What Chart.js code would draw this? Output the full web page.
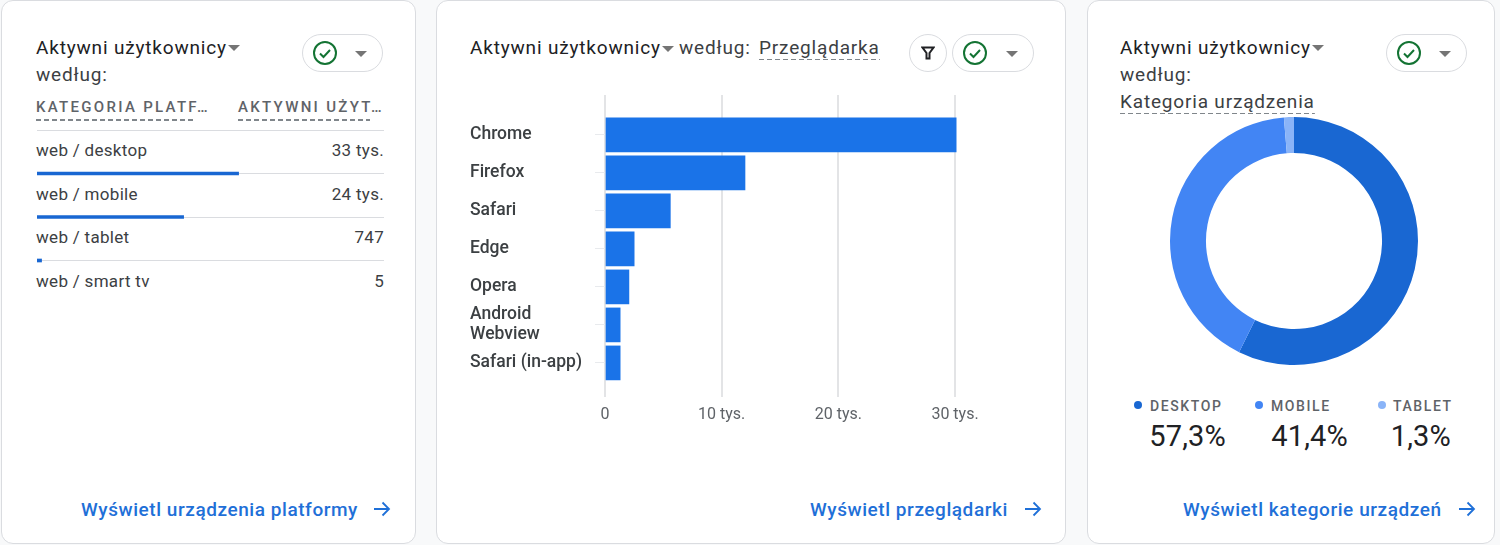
<!DOCTYPE html>
<html lang="pl">
<head>
<meta charset="utf-8">
<title>Aktywni użytkownicy</title>
<script src="https://cdn.jsdelivr.net/npm/chart.js@4"></script>
<style>
  html, body { margin: 0; padding: 0; width: 1500px; height: 545px; overflow: hidden; background: #f8f9fa; font-family: Roboto, sans-serif; color: #3c4043; }
  .card { position: absolute; top: 0; height: 544px; box-sizing: border-box; background: #fff; border: 1px solid #dadce0; border-radius: 12px; }
  .abs { position: absolute; white-space: nowrap; }
  .title { font-size: 19px; letter-spacing: .82px; color: #202124; }
  .sub { color: #3c4043; }
  .dash { padding-bottom: 1px; background: repeating-linear-gradient(90deg, #80868b 0 5px, transparent 5px 8px) bottom / 100% 1.5px no-repeat; }
  .caret { position: absolute; width: 0; height: 0; border-left: 6px solid transparent; border-right: 6px solid transparent; border-top: 6px solid #757575; }
  .pill { position: absolute; box-sizing: border-box; height: 38px; background: #fff; border: 1px solid #dadce0; border-radius: 19px; }
  .link { position: absolute; font-size: 19px; font-weight: 500; letter-spacing: .56px; color: #1f70d8; white-space: nowrap; }
  .head { font-size: 15px; font-weight: 500; letter-spacing: 2.3px; color: #5f6368; }
  .line { position: absolute; height: 1.5px; background: repeating-linear-gradient(90deg, #80868b 0 5px, transparent 5px 8px); }
  .row { font-size: 17px; letter-spacing: .3px; color: #3c4043; }
  .leg { font-size: 14px; font-weight: 500; letter-spacing: 1.6px; color: #5f6368; }
  .pct { font-size: 29px; letter-spacing: .2px; color: #202124; }
  .dot { position: absolute; width: 8px; height: 8px; border-radius: 50%; }
  canvas { position: absolute; }
</style>
</head>
<body>
<div class="card" style="left:1px;width:415px"></div>
<div class="card" style="left:436px;width:630px"></div>
<div class="card" style="left:1087px;width:408px"></div>

<!-- left card -->
<div class="abs title" style="left:36px;top:36px">Aktywni użytkownicy</div>
<div class="caret" style="left:228px;top:45px"></div>
<div class="abs title sub" style="left:36px;top:63px">według:</div>
<div class="abs title sub" style="left:36px;top:90px;height:4px;overflow:hidden">Kategoria platformy</div>
<div class="abs head" style="left:36px;top:98px">KATEGORIA PLATF…</div>
<div class="abs head" style="left:238px;top:98px">AKTYWNI UŻYT…</div>
<div class="line" style="left:36px;top:119px;width:159px"></div>
<div class="line" style="left:238px;top:119px;width:132px"></div>
<div id="platformRows"></div>
<canvas id="platformChart" style="left:37px;top:129px"></canvas>

<!-- middle card -->
<div class="abs title" style="left:470px;top:36px">Aktywni użytkownicy</div>
<div class="caret" style="left:662px;top:46px"></div>
<div class="abs title sub" style="left:679px;top:36px">według:</div>
<div class="abs title sub dash" style="left:759px;top:36px">Przeglądarka</div>
<canvas id="browserChart" style="left:470px;top:95px"></canvas>

<!-- right card -->
<div class="abs title" style="left:1120px;top:36px">Aktywni użytkownicy</div>
<div class="caret" style="left:1312px;top:45px"></div>
<div class="abs title sub" style="left:1120px;top:63px">według:</div>
<div class="abs title sub dash" style="left:1120px;top:90px">Kategoria urządzenia</div>
<canvas id="deviceChart" style="left:1160px;top:107px"></canvas>
<div id="deviceLegend"></div>

<div id="pills"></div>

<div class="link" style="left:81px;top:498px">Wyświetl urządzenia platformy</div>
<div class="link" style="left:810px;top:498px">Wyświetl przeglądarki</div>
<div class="link" style="left:1183px;top:498px">Wyświetl kategorie urządzeń</div>
<div id="arrows"></div>

<script>
// platform table
const platformLabels = ['web / desktop', 'web / mobile', 'web / tablet', 'web / smart tv'];
const platformValues = [33000, 24000, 747, 5];
const platformText = ['33 tys.', '24 tys.', '747', '5'];

// browsers
const browserLabels = ['Chrome', 'Firefox', 'Safari', 'Edge', 'Opera', ['Android', 'Webview'], 'Safari (in-app)'];
const browserValues = [30100, 12000, 5600, 2500, 2050, 1300, 1300];
const browserTicks = [0, 10000, 20000, 30000];

// devices
const deviceLabels = ['DESKTOP', 'MOBILE', 'TABLET'];
const deviceValues = [57.3, 41.4, 1.3];
const deviceText = ['57,3%', '41,4%', '1,3%'];
const deviceColors = ['#1967d2', '#4285f4', '#8ab4f8'];

function addHtml(id, html) {
    document.getElementById(id).insertAdjacentHTML('beforeend', html);
}

// rows of the left table
platformLabels.forEach(function(label, i) {
    const top = 140 + i * 43.5;
    addHtml('platformRows', '<div class="abs row" style="left:36px;top:' + top + 'px">' + label + '</div>');
    addHtml('platformRows', '<div class="abs row" style="right:' + (1500 - 384) + 'px;top:' + top + 'px">' + platformText[i] + '</div>');
});

// legend of the donut
const legendDotX = [1134, 1255, 1378];
const legendTextX = [1150, 1271, 1393];
const pctRight = [1226, 1348, 1451];
deviceLabels.forEach(function(label, i) {
    addHtml('deviceLegend', '<div class="dot" style="left:' + legendDotX[i] + 'px;top:401px;background:' + deviceColors[i] + '"></div>');
    addHtml('deviceLegend', '<div class="abs leg" style="left:' + legendTextX[i] + 'px;top:398px">' + label + '</div>');
    addHtml('deviceLegend', '<div class="abs pct" style="right:' + (1500 - pctRight[i]) + 'px;top:419px">' + deviceText[i] + '</div>');
});

// check pills and the filter button
const checkIcon = '<svg width="26" height="26" viewBox="0 0 26 26" style="position:absolute;left:9px;top:5px"><circle cx="13" cy="13" r="11" fill="none" stroke="#137333" stroke-width="2"/><path d="M8 13.500l3.500 3.500 6.500-7" fill="none" stroke="#137333" stroke-width="2"/></svg>';
[[302, 81], [952, 82], [1386, 81]].forEach(function(p) {
    addHtml('pills', '<div class="pill" style="left:' + p[0] + 'px;top:34px;width:' + p[1] + 'px">' + checkIcon +
        '<div class="caret" style="left:' + (p[1] - 29) + 'px;top:16px"></div></div>');
});
addHtml('pills', '<div class="pill" style="left:909px;top:34px;width:38px"><svg width="14" height="14" viewBox="0 0 14 14" style="position:absolute;left:11px;top:11px"><path d="M1.5 1.5h11L8.5 7v5.5h-3V7z" fill="none" stroke="#202124" stroke-width="2"/></svg></div>');

[373, 1024, 1458].forEach(function(x) {
    addHtml('arrows', '<svg class="abs" width="18" height="18" viewBox="0 0 18 18" style="left:' + x + 'px;top:500px"><path d="M1 9h15M9.5 2.5L16 9l-6.500 6.500" fill="none" stroke="#1f70d8" stroke-width="1.800"/></svg>');
});

function setSize(id, w, h) {
    const c = document.getElementById(id);
    c.width = w;
    c.height = h;
    c.style.width = w + 'px';
    c.style.height = h + 'px';
    return c;
}

document.addEventListener('DOMContentLoaded', function() {
    Chart.defaults.font.family = 'Roboto, sans-serif';

    // --- 1. bars under the table rows ---
    new Chart(setSize('platformChart', 347, 176), {
        type: 'bar',
        data: {
            datasets: [{
                data: platformValues.map(function(v, i) { return { x: v, y: i + 1 }; }),
                // the smart tv value is far below one pixel, no visible bar there
                backgroundColor: function(ctx) { return ctx.raw && ctx.raw.x < 50 ? 'transparent' : '#1967d2'; },
                barThickness: 3,
                clip: false
            }]
        },
        options: {
            indexAxis: 'y',
            responsive: false,
            animation: false,
            plugins: { legend: { display: false }, tooltip: { enabled: false } },
            layout: { padding: { top: 1, bottom: 1 } },
            scales: {
                x: { type: 'linear', display: false, min: 0, max: 56800 },
                y: {
                    type: 'linear',
                    offset: false,
                    min: 0, max: 4, reverse: true,
                    afterBuildTicks: function(s) { s.ticks = [0, 1, 2, 3].map(function(v) { return { value: v }; }); },
                    afterFit: function(s) { s.width = 0; s.paddingTop = 0; s.paddingBottom = 0; },
                    border: { display: false },
                    ticks: { display: false },
                    grid: { offset: false, color: '#dadce0', tickLength: 0 }
                }
            }
        }
    });

    // --- 2. browsers ---
    new Chart(setSize('browserChart', 525, 340), {
        type: 'bar',
        data: {
            datasets: [{
                data: browserValues.map(function(v, i) { return { x: v, y: i }; }),
                backgroundColor: '#1a73e8',
                barThickness: 34,
                clip: false
            }]
        },
        options: {
            indexAxis: 'y',
            responsive: false,
            animation: false,
            plugins: { legend: { display: false }, tooltip: { enabled: false } },
            layout: { padding: { right: 40 } },
            scales: {
                x: {
                    type: 'linear',
                    position: 'bottom',
                    min: 0, max: 30000,
                    afterBuildTicks: function(s) { s.ticks = browserTicks.map(function(v) { return { value: v }; }); },
                    afterFit: function(s) { s.height = 38; s.paddingLeft = 0; s.paddingRight = 0; },
                    border: { display: false },
                    grid: { color: '#e3e4e6', lineWidth: 2, tickLength: 0 },
                    ticks: {
                        padding: 8,
                        color: '#5f6368',
                        maxRotation: 0,
                        font: { size: 16 },
                        callback: function(v) { return v === 0 ? '0' : (v / 1000) + ' tys.'; }
                    }
                },
                y: {
                    type: 'linear',
                    offset: false,
                    min: -1.05, max: 6.897, reverse: true,
                    afterBuildTicks: function(s) { s.ticks = browserValues.map(function(v, i) { return { value: i }; }); },
                    afterFit: function(s) { s.width = 135; s.paddingTop = 0; s.paddingBottom = 0; },
                    border: { display: false },
                    grid: { offset: false, drawOnChartArea: false, color: '#e8eaed', tickLength: 10 },
                    ticks: {
                        crossAlign: 'far',
                        autoSkip: false,
                        color: '#3c4043',
                        font: { size: 17.5, weight: 500, lineHeight: 1.15 },
                        callback: function(v) { return browserLabels[v]; }
                    }
                }
            }
        }
    });

    // --- 3. device donut ---
    new Chart(setSize('deviceChart', 268, 268), {
        type: 'doughnut',
        data: {
            labels: deviceLabels,
            datasets: [{
                data: deviceValues,
                backgroundColor: deviceColors,
                borderWidth: 0
            }]
        },
        options: {
            responsive: false,
            animation: false,
            radius: 124,
            cutout: '71%',
            plugins: { legend: { display: false }, tooltip: { enabled: false } }
        }
    });
});
</script>
</body>
</html>
